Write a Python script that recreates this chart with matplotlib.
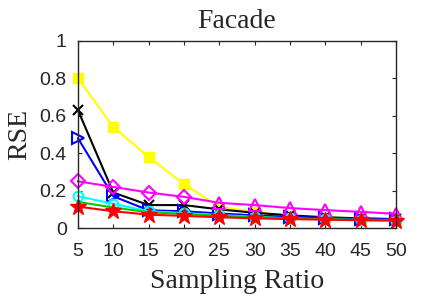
import matplotlib
matplotlib.use('Agg')
import matplotlib.pyplot as plt

ratio = [5, 10, 15, 20, 25, 30, 35, 40, 45, 50]
yellow = [0.80, 0.54, 0.38, 0.235, 0.114, 0.087, 0.065, 0.055, 0.048, 0.042]
black = [0.63, 0.19, 0.123, 0.123, 0.10, 0.082, 0.068, 0.058, 0.052, 0.048]
blue = [0.48, 0.17, 0.095, 0.09, 0.078, 0.068, 0.06, 0.055, 0.05, 0.048]
magenta = [0.25, 0.22, 0.19, 0.167, 0.135, 0.123, 0.107, 0.096, 0.087, 0.076]
cyan = [0.17, 0.13, 0.09, 0.08, 0.07, 0.06, 0.052, 0.046, 0.042, 0.04]
green = [0.14, 0.11, 0.085, 0.075, 0.066, 0.058, 0.052, 0.048, 0.045, 0.043]
red = [0.115, 0.09, 0.072, 0.065, 0.058, 0.052, 0.048, 0.045, 0.042, 0.04]

gray = '#262626'
fig = plt.figure(figsize=(4.38, 2.97), dpi=100)
ax = fig.add_axes([0.178, 0.232, 0.726, 0.63])

lw = 1.5
kw = dict(lw=lw, clip_on=False)
ax.plot(ratio, yellow, color='yellow', marker='s', ms=7, **kw)
ax.plot(ratio, black, color='black', marker='x', ms=7, mew=1.5, **kw)
ax.plot(ratio, blue, color='blue', marker='>', ms=8, mfc='none', mew=1.5, **kw)
ax.plot(ratio, magenta, color='magenta', **kw)
ax.plot(ratio[:4], magenta[:4], color='magenta', marker='D', ls='none', ms=7, mfc='none', mew=1.5, clip_on=False)
ax.plot(ratio[4:], magenta[4:], color='magenta', marker='^', ls='none', ms=8, mfc='none', mew=1.5, clip_on=False)
ax.plot(ratio, cyan, color='cyan', marker='o', ms=7, mfc='none', mew=1.5, **kw)
ax.plot(ratio, green, color='#00cc00', **kw)
ax.plot(ratio, red, color='red', marker='*', ms=12, **kw)

ax.set_xlim(5, 50)
ax.set_ylim(0, 1)
ax.set_xticks(ratio)
ax.set_yticks([0, 0.2, 0.4, 0.6, 0.8, 1])
ax.set_yticklabels(['0', '0.2', '0.4', '0.6', '0.8', '1'])
ax.tick_params(direction='in', top=True, right=True, length=3, labelsize=14,
               colors=gray, labelcolor=gray)
ax.tick_params(axis='x', pad=11)
ax.tick_params(axis='y', pad=8)
for lab in ax.get_xticklabels() + ax.get_yticklabels():
    lab.set_family('Liberation Sans')
for sp in ax.spines.values():
    sp.set_color(gray)
    sp.set_linewidth(1.0)

ax.set_title('Facade', family='Liberation Serif', fontsize=20, pad=9, color=gray)
ax.set_xlabel('Sampling Ratio', family='Liberation Serif', fontsize=20, labelpad=6, color=gray)
ax.set_ylabel('RSE', family='Liberation Serif', fontsize=20, labelpad=5, color=gray)

fig.savefig('out.png', dpi=100)
